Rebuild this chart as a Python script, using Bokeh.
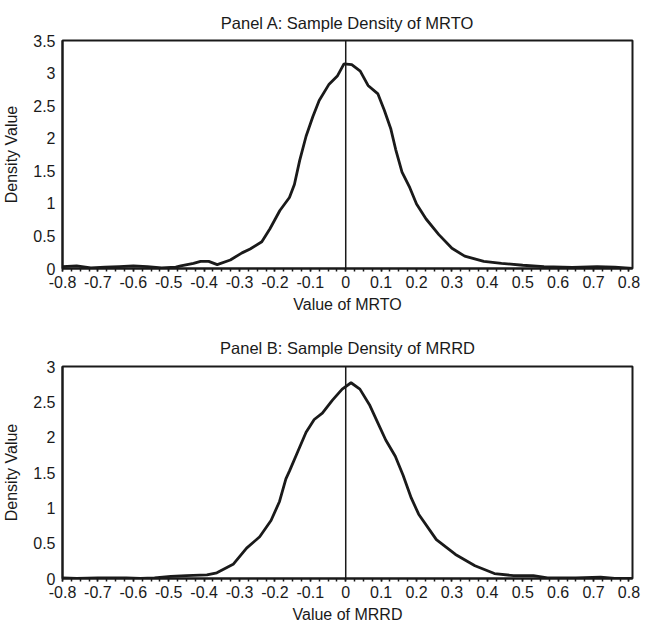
from bokeh.plotting import figure
from bokeh.layouts import column
from bokeh.models import FixedTicker, PrintfTickFormatter, Span, Range1d
from bokeh.embed import file_html
from bokeh.resources import INLINE

# Panel A: Sample density of MRTO
mrto_x = [-0.80, -0.76, -0.72, -0.68, -0.64, -0.60, -0.56, -0.52, -0.48, -0.466,
          -0.43, -0.41, -0.387, -0.363, -0.326, -0.293, -0.27, -0.237, -0.214, -0.186,
          -0.159, -0.145, -0.13, -0.112, -0.093, -0.075, -0.047, -0.023, -0.005, 0.017,
          0.041, 0.063, 0.091, 0.109, 0.127, 0.141, 0.159, 0.181, 0.2, 0.227,
          0.263, 0.3, 0.336, 0.39, 0.44, 0.5, 0.56, 0.64, 0.71, 0.76, 0.81]
mrto_y = [0.03, 0.04, 0.01, 0.02, 0.03, 0.04, 0.03, 0.01, 0.02, 0.04,
          0.08, 0.11, 0.11, 0.06, 0.13, 0.24, 0.30, 0.41, 0.61, 0.89,
          1.09, 1.29, 1.66, 2.03, 2.33, 2.58, 2.83, 2.96, 3.14, 3.13,
          3.03, 2.81, 2.68, 2.43, 2.15, 1.83, 1.48, 1.24, 0.99, 0.76,
          0.52, 0.31, 0.19, 0.11, 0.08, 0.05, 0.03, 0.015, 0.03, 0.02, 0.0]

# Panel B: Sample density of MRRD
mrrd_x = [-0.80, -0.76, -0.70, -0.62, -0.58, -0.54, -0.494, -0.45, -0.392, -0.364,
          -0.318, -0.28, -0.243, -0.211, -0.187, -0.169, -0.159, -0.135, -0.112, -0.089,
          -0.066, -0.038, -0.01, 0.015, 0.04, 0.067, 0.09, 0.113, 0.14, 0.162,
          0.185, 0.206, 0.256, 0.31, 0.365, 0.42, 0.474, 0.53, 0.57, 0.65,
          0.72, 0.76, 0.81]
mrrd_y = [0.01, 0.0, 0.01, 0.01, 0.0, 0.01, 0.03, 0.04, 0.05, 0.08,
          0.20, 0.43, 0.59, 0.82, 1.09, 1.41, 1.52, 1.80, 2.07, 2.25,
          2.34, 2.52, 2.68, 2.77, 2.68, 2.46, 2.21, 1.96, 1.73, 1.46,
          1.14, 0.91, 0.55, 0.34, 0.18, 0.07, 0.04, 0.04, 0.01, 0.01,
          0.02, 0.0, 0.0]

x_ticks = [round(-0.8 + 0.1 * i, 1) for i in range(17)]
x_minor = [round(-0.8 + 0.025 * i, 3) for i in range(65)]
ya_ticks = [0, 0.5, 1, 1.5, 2, 2.5, 3, 3.5]
yb_ticks = [0, 0.5, 1, 1.5, 2, 2.5, 3]

FONT = "Liberation Sans"
INK = "#1a1a1a"


def make_panel(title, xlabel, xs, ys, ymax, yticks, height, top, bottom, tstand):
    p = figure(width=642, height=height, output_backend="svg", toolbar_location=None,
               x_range=Range1d(-0.8, 0.81), y_range=Range1d(0, ymax),
               min_border_left=62, min_border_right=10,
               min_border_top=top, min_border_bottom=bottom)
    p.title.text = title
    p.title.align = "center"
    p.title.text_font = FONT
    p.title.text_font_size = "16.5px"
    p.title.text_font_style = "normal"
    p.title.text_color = INK
    p.title.standoff = tstand
    p.xgrid.visible = False
    p.ygrid.visible = False
    p.outline_line_color = INK
    p.outline_line_width = 2
    p.outline_line_alpha = 1
    p.background_fill_color = "white"
    p.border_fill_color = "white"

    p.line(xs, ys, line_color=INK, line_width=2.8)
    p.add_layout(Span(location=0, dimension="height", line_color=INK, line_width=1.5))

    xa = p.xaxis[0]
    xa.ticker = FixedTicker(ticks=x_ticks, minor_ticks=x_minor)
    xa.formatter = PrintfTickFormatter(format="%g")
    xa.axis_label = xlabel
    xa.axis_label_text_font = FONT
    xa.axis_label_text_font_size = "16px"
    xa.axis_label_text_font_style = "normal"
    xa.axis_label_text_color = INK
    xa.axis_label_standoff = 5
    xa.major_label_text_font = FONT
    xa.major_label_text_font_size = "16px"
    xa.major_label_text_color = INK
    xa.major_label_standoff = 4
    xa.axis_line_width = 2
    xa.axis_line_color = INK
    xa.major_tick_in = 0
    xa.major_tick_out = 3
    xa.minor_tick_in = 0
    xa.minor_tick_out = 3
    xa.major_tick_line_width = 1.5
    xa.minor_tick_line_width = 1.5
    xa.major_tick_line_color = INK
    xa.minor_tick_line_color = INK

    ya = p.yaxis[0]
    ya.ticker = FixedTicker(ticks=yticks)
    ya.formatter = PrintfTickFormatter(format="%g")
    ya.axis_label = "Density Value"
    ya.axis_label_text_font = FONT
    ya.axis_label_text_font_size = "16px"
    ya.axis_label_text_font_style = "normal"
    ya.axis_label_text_color = INK
    ya.axis_label_standoff = 10
    ya.major_label_text_font = FONT
    ya.major_label_text_font_size = "16px"
    ya.major_label_text_color = INK
    ya.major_label_standoff = 7
    ya.axis_line_width = 2
    ya.axis_line_color = INK
    ya.major_tick_in = 0
    ya.major_tick_out = 0
    ya.minor_tick_in = 0
    ya.minor_tick_out = 0
    return p


pa = make_panel("Panel A: Sample Density of MRTO", "Value of MRTO", mrto_x, mrto_y,
                3.5, ya_ticks, 320, 40, 52, 17)
pb = make_panel("Panel B: Sample Density of MRRD", "Value of MRRD", mrrd_x, mrrd_y,
                3.0, yb_ticks, 308, 46, 50, 20)

layout = column(pa, pb, spacing=0)
open("out.html", "w").write(file_html(layout, INLINE))
